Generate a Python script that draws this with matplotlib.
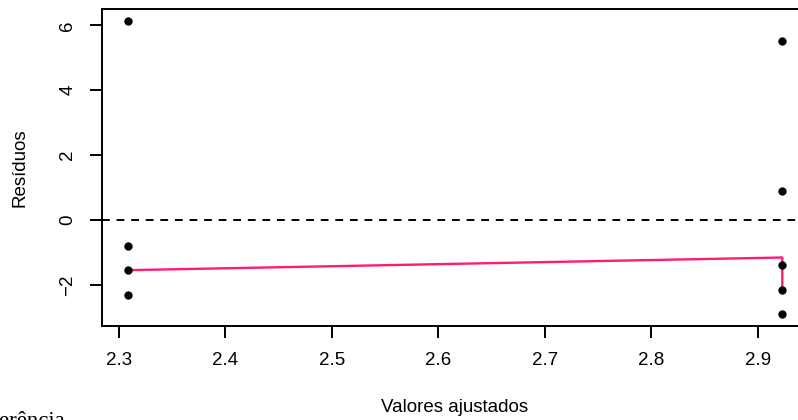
import matplotlib
matplotlib.use("Agg")
import matplotlib.pyplot as plt

# Fitted values and residuals
fitted = [2.3088, 2.3088, 2.3088, 2.3088, 2.9231, 2.9231, 2.9231, 2.9231, 2.9231]
residuals = [6.13, -0.79, -1.55, -2.32, 5.52, 0.90, -1.39, -2.15, -2.91]

# Smooth (red) line
smooth_x = [2.3088, 2.9231, 2.9231]
smooth_y = [-1.55, -1.16, -2.15]

x_ticks = [2.3, 2.4, 2.5, 2.6, 2.7, 2.8, 2.9]
y_ticks = [-2, 0, 2, 4, 6]

plt.rcParams['font.family'] = ['Liberation Sans', 'DejaVu Sans']

fig = plt.figure(figsize=(7.98, 4.2), dpi=100)
ax = fig.add_axes([0.1278, 0.2238, 0.8853, 0.754])

ax.scatter(fitted, residuals, s=36, color='black', zorder=3, linewidths=0)
ax.plot(smooth_x, smooth_y, color='#ff1a75', linewidth=1.7, zorder=2)
ax.axhline(0, color='black', linestyle=(0, (4, 3.5)), linewidth=1.4, zorder=1)

ax.margins(x=0.04, y=0.04)
ax.set_xticks(x_ticks)
ax.set_xticklabels([f"{t:.1f}" for t in x_ticks])
ax.set_yticks(y_ticks)
ax.set_yticklabels([str(t).replace('-', '\u2212') for t in y_ticks],
                   rotation=90, va='center')

for sp in ax.spines.values():
    sp.set_linewidth(1.4)
ax.tick_params(axis='both', length=8.6, width=1.4, labelsize=13.5)
ax.tick_params(axis='x', pad=10)
ax.tick_params(axis='y', pad=10)

fig.text(455 / 798, 1 - 408 / 420, 'Valores ajustados', ha='center', va='center',
         fontsize=13.5)
fig.text(20 / 798, 1 - 168 / 420, 'Resíduos', ha='center', va='center',
         rotation=90, fontsize=13.5)

# Caption at bottom left, cut off by the figure edge as in the reference
fig.text(65 / 798, -0.016, 'Referência', ha='right', va='baseline',
         fontsize=16.5, family='Liberation Serif')

fig.savefig('out.png', dpi=100)
